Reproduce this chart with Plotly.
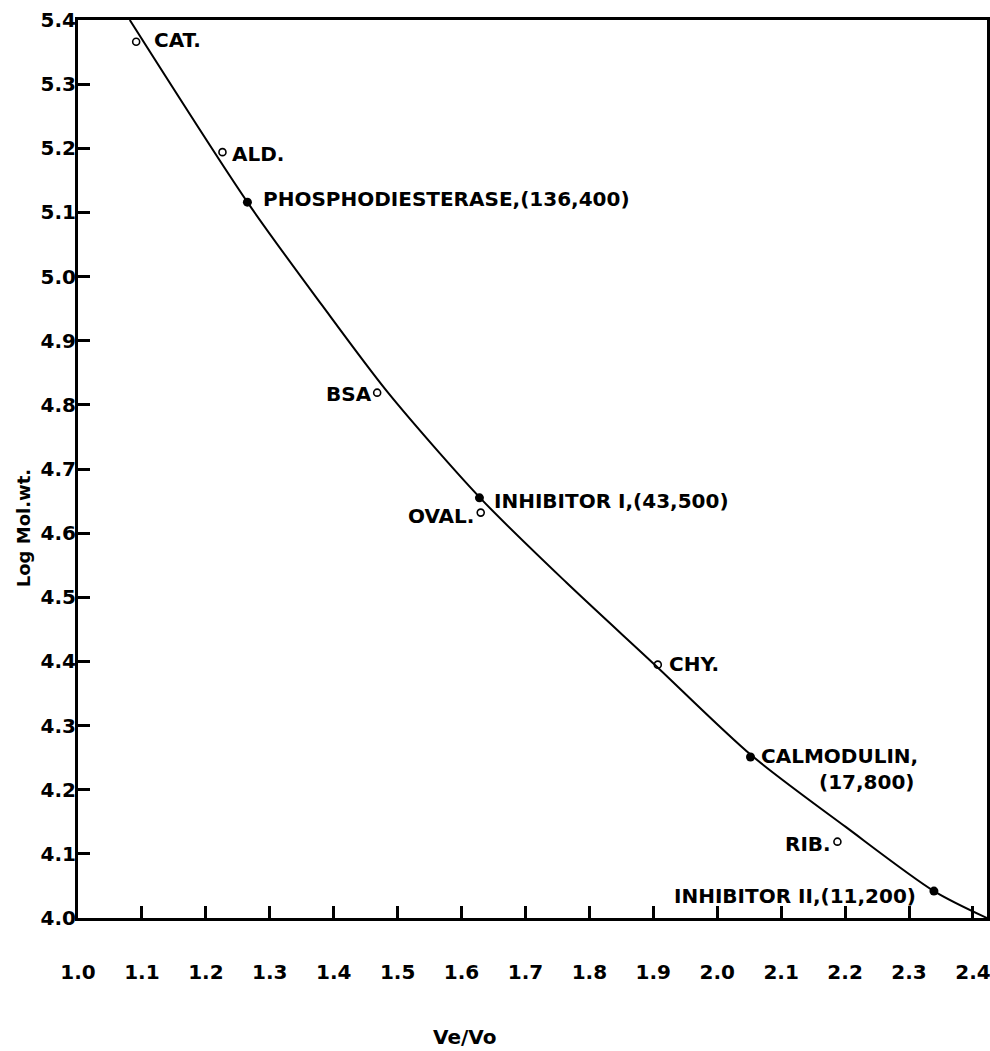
import plotly.graph_objects as go

# Calibration curve (Ve/Vo vs Log Mol.wt.)
curve_x = [1.081, 1.265, 1.382, 1.485, 1.629, 1.764, 1.901, 2.053, 2.201, 2.339, 2.422]
curve_y = [5.400, 5.116, 4.955, 4.819, 4.655, 4.523, 4.396, 4.254, 4.142, 4.042, 4.000]

# Standard proteins (open circles)
std_names = ["CAT.", "ALD.", "BSA", "OVAL.", "CHY.", "RIB."]
std_x = [1.091, 1.226, 1.468, 1.630, 1.907, 2.188]
std_y = [5.366, 5.194, 4.819, 4.632, 4.395, 4.119]

# Samples (filled circles)
smp_names = ["PHOSPHODIESTERASE,(136,400)", "INHIBITOR I,(43,500)", "CALMODULIN,", "INHIBITOR II,(11,200)"]
smp_x = [1.265, 1.628, 2.052, 2.339]
smp_y = [5.116, 4.655, 4.251, 4.042]

x_ticks = [1.0, 1.1, 1.2, 1.3, 1.4, 1.5, 1.6, 1.7, 1.8, 1.9, 2.0, 2.1, 2.2, 2.3, 2.4]
y_ticks = [4.0, 4.1, 4.2, 4.3, 4.4, 4.5, 4.6, 4.7, 4.8, 4.9, 5.0, 5.1, 5.2, 5.3, 5.4]

FONT = "DejaVu Sans"
fs = 20

fig = go.Figure()
fig.add_trace(go.Scatter(x=curve_x, y=curve_y, mode="lines",
                         line=dict(color="black", width=2, shape="spline", smoothing=0.8),
                         hoverinfo="skip", showlegend=False))
fig.add_trace(go.Scatter(x=std_x, y=std_y, mode="markers",
                         marker=dict(symbol="circle-open", size=7, color="black", line=dict(width=1.6, color="black")),
                         text=std_names, showlegend=False))
fig.add_trace(go.Scatter(x=smp_x, y=smp_y, mode="markers",
                         marker=dict(symbol="circle", size=9, color="black"),
                         text=smp_names, showlegend=False))

# label placement offsets (pixels) relative to each point
std_lab = [("left", 16, 2), ("left", 8, -2), ("right", -3, -1), ("right", -5, -3), ("left", 9, 1), ("right", -4, -2)]
for n, x, y, (anc, dx, dy) in zip(std_names, std_x, std_y, std_lab):
    fig.add_annotation(x=x, y=y, text=n, showarrow=False, xanchor=anc, yanchor="middle",
                       xshift=dx, yshift=dy, font=dict(family=FONT, size=fs, color="black", weight="bold"))

smp_lab = [("left", 14, 3), ("left", 13, -3), ("left", 9, 1), ("right", -16, -5)]
for n, x, y, (anc, dx, dy) in zip(smp_names, smp_x, smp_y, smp_lab):
    fig.add_annotation(x=x, y=y, text=n, showarrow=False, xanchor=anc, yanchor="middle",
                       xshift=dx, yshift=dy, font=dict(family=FONT, size=fs, color="black", weight="bold"))
# second line of the calmodulin label
fig.add_annotation(x=smp_x[2], y=smp_y[2], text="(17,800)", showarrow=False, xanchor="center",
                   yanchor="middle", xshift=116, yshift=-25,
                   font=dict(family=FONT, size=fs, color="black", weight="bold"))

# axis titles
fig.add_annotation(xref="paper", yref="paper", x=0.4257, y=-0.1325, text="Ve/Vo", showarrow=False,
                   xanchor="center", yanchor="middle",
                   font=dict(family=FONT, size=20, color="black", weight="bold"))
fig.add_annotation(xref="paper", yref="paper", x=-0.0605, y=0.434, text="Log Mol.wt.", showarrow=False,
                   textangle=-90, xanchor="center", yanchor="middle",
                   font=dict(family=FONT, size=18, color="black", weight="bold"))

axis_common = dict(showgrid=False, zeroline=False, showline=True, linecolor="black", linewidth=3,
                   mirror=True, ticks="inside", ticklen=12, tickwidth=2.5, tickcolor="black",
                   tickformat=".1f", automargin=False, ticklabeloverflow="allow",
                   tickfont=dict(family=FONT, size=20, color="black", weight="bold"))

fig.update_xaxes(range=[1.0, 2.422], tickvals=x_ticks, ticklabelstandoff=34, **axis_common)
fig.update_yaxes(range=[4.0, 5.4], tickvals=y_ticks, ticklabelstandoff=-5, **axis_common)

fig.update_layout(width=990, height=1051, margin=dict(l=78, r=3, t=20, b=133),
                  plot_bgcolor="white", paper_bgcolor="white", showlegend=False)

fig.write_html("out.html", config={"displayModeBar": False},
               post_script="document.body.style.margin='0';document.body.style.overflow='hidden';")
